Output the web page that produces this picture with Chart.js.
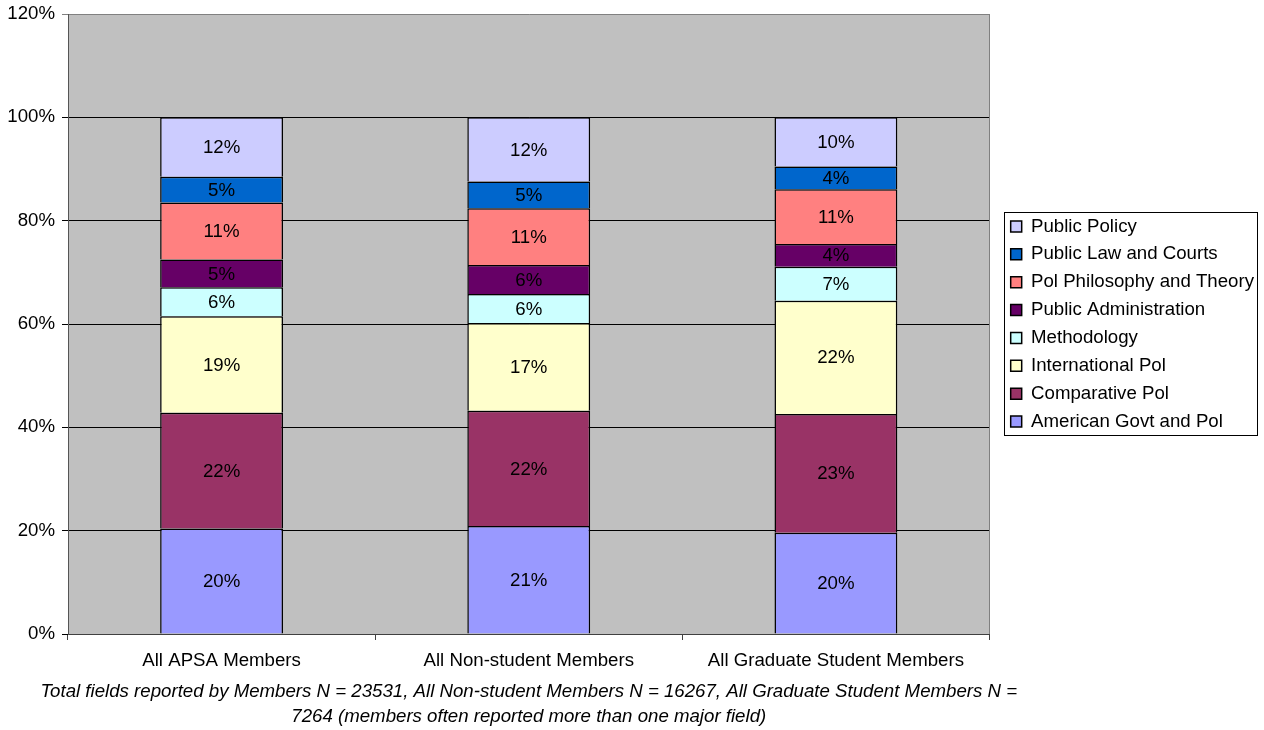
<!DOCTYPE html>
<html>
<head>
<meta charset="utf-8">
<script src="https://cdn.jsdelivr.net/npm/chart.js@4.4.1/dist/chart.umd.min.js"></script>
<style>
    html, body { margin: 0; padding: 0; background: #ffffff; }
</style>
</head>
<body>
<canvas id="chart" width="1264" height="730"></canvas>
<script>
    // Categories (bars) and field shares in percent, bottom segment first.
    var categories = ['All APSA Members', 'All Non-student Members', 'All Graduate Student Members'];
    var americanGovt = [20.4, 20.9, 19.6];
    var comparativePol = [22.4, 22.3, 23.0];
    var internationalPol = [18.7, 17.0, 21.9];
    var methodology = [5.6, 5.6, 6.6];
    var publicAdmin = [5.4, 5.6, 4.4];
    var polPhilosophy = [11.0, 11.0, 10.6];
    var publicLaw = [5.0, 5.2, 4.4];
    var publicPolicy = [11.5, 12.4, 9.5];
    var yTicks = [0, 20, 40, 60, 80, 100, 120];
    var caption = [
        'Total fields reported by Members N = 23531, All Non-student Members N = 16267, All Graduate Student Members N =',
        '7264 (members often reported more than one major field)'
    ];

    var FONT = "'Liberation Sans', Arial, sans-serif";
    var SIZE = 18.67;

    Chart.defaults.color = '#000000';
    Chart.defaults.font.family = FONT;

    function series(label, data, color) {
        return {
            label: label,
            data: data,
            backgroundColor: color,
            borderColor: '#000000',
            borderWidth: 1.5,
            barPercentage: 1,
            categoryPercentage: 0.4
        };
    }

    /**
     * Grey plot area and its right edge.
     */
    var plotArea = {
        id: 'plotArea',
        beforeDraw: function (chart) {
            var a = chart.chartArea, ctx = chart.ctx;
            ctx.save();
            ctx.fillStyle = '#c0c0c0';
            ctx.fillRect(a.left, a.top, a.right - a.left, a.bottom - a.top);
            ctx.restore();
        },
        afterDraw: function (chart) {
            var a = chart.chartArea, ctx = chart.ctx;
            ctx.save();
            ctx.strokeStyle = '#808080';
            ctx.lineWidth = 1;
            ctx.beginPath();
            ctx.moveTo(Math.round(a.right) + 0.5, a.top);
            ctx.lineTo(Math.round(a.right) + 0.5, a.bottom);
            ctx.stroke();
            ctx.restore();
        }
    };

    /**
     * Percentage labels in the middle of each segment.
     */
    var segmentLabels = {
        id: 'segmentLabels',
        afterDatasetsDraw: function (chart) {
            var ctx = chart.ctx;
            ctx.save();
            ctx.font = SIZE + 'px ' + FONT;
            ctx.fillStyle = '#000000';
            ctx.textAlign = 'center';
            ctx.textBaseline = 'middle';
            chart.data.datasets.forEach(function (ds, i) {
                chart.getDatasetMeta(i).data.forEach(function (bar, j) {
                    ctx.fillText(Math.round(ds.data[j]) + '%', bar.x, (bar.y + bar.base) / 2 + 1);
                });
            });
            ctx.restore();
        }
    };

    /**
     * Frame around the legend items.
     */
    var legendFrame = {
        id: 'legendFrame',
        afterDraw: function (chart) {
            var boxes = chart.legend.legendHitBoxes, ctx = chart.ctx;
            var left = Infinity, top = Infinity, right = -Infinity, bottom = -Infinity;
            boxes.forEach(function (b) {
                left = Math.min(left, b.left);
                top = Math.min(top, b.top);
                right = Math.max(right, b.left + b.width);
                bottom = Math.max(bottom, b.top + b.height);
            });
            ctx.save();
            ctx.strokeStyle = '#000000';
            ctx.lineWidth = 1;
            ctx.strokeRect(Math.round(left - 7) + 0.5, Math.round(top - 5) + 0.5,
                Math.round(right - left + 10), Math.round(bottom - top + 9));
            ctx.restore();
        }
    };

    /**
     * Italic footnote centred under the plot area.
     */
    var footnote = {
        id: 'footnote',
        afterDraw: function (chart) {
            var a = chart.chartArea, ctx = chart.ctx;
            var x = (a.left + a.right) / 2;
            ctx.save();
            ctx.font = 'italic ' + SIZE + 'px ' + FONT;
            ctx.fillStyle = '#000000';
            ctx.textAlign = 'center';
            ctx.textBaseline = 'middle';
            caption.forEach(function (line, i) {
                ctx.fillText(line, x, a.bottom + 58 + i * 25);
            });
            ctx.restore();
        }
    };

    new Chart(document.getElementById('chart'), {
        type: 'bar',
        data: {
            labels: categories,
            datasets: [
                series('American Govt and Pol', americanGovt, '#9999ff'),
                series('Comparative Pol', comparativePol, '#993366'),
                series('International Pol', internationalPol, '#ffffcc'),
                series('Methodology', methodology, '#ccffff'),
                series('Public Administration', publicAdmin, '#660066'),
                series('Pol Philosophy and Theory', polPhilosophy, '#ff8080'),
                series('Public Law and Courts', publicLaw, '#0066cc'),
                series('Public Policy', publicPolicy, '#ccccff')
            ]
        },
        options: {
            responsive: false,
            devicePixelRatio: 1,
            animation: false,
            layout: { padding: { top: 14, right: 0, left: 0, bottom: 0 } },
            scales: {
                x: {
                    stacked: true,
                    grid: { offset: true, drawOnChartArea: false, tickLength: 6, color: '#404040' },
                    border: { color: '#404040' },
                    ticks: { font: { size: SIZE }, padding: 10, maxRotation: 0 },
                    afterFit: function (scale) { scale.height = 96; }
                },
                y: {
                    stacked: true,
                    min: 0,
                    max: 120,
                    afterBuildTicks: function (scale) {
                        scale.ticks = yTicks.map(function (v) { return { value: v }; });
                    },
                    grid: {
                        tickLength: 6,
                        color: function (c) { return c.tick && c.tick.value === 120 ? '#808080' : '#000000'; }
                    },
                    border: { color: '#555555' },
                    ticks: {
                        font: { size: SIZE, lineHeight: 0.6 },
                        padding: 7,
                        callback: function (v) { return v + '%'; }
                    },
                    afterFit: function (scale) { scale.width = 68; }
                },
                // empty spacer between the plot area and the legend
                gap: {
                    type: 'linear',
                    position: 'right',
                    display: true,
                    grid: { display: false },
                    border: { display: false },
                    ticks: { display: false },
                    afterFit: function (scale) { scale.width = 12; }
                }
            },
            plugins: {
                legend: {
                    position: 'right',
                    fullSize: false,
                    maxWidth: 300,
                    reverse: true,
                    labels: { boxWidth: 11, boxHeight: 11, padding: 9.2, font: { size: SIZE } }
                },
                title: { display: false },
                tooltip: { enabled: false }
            }
        },
        plugins: [plotArea, segmentLabels, legendFrame, footnote]
    });
</script>
</body>
</html>
